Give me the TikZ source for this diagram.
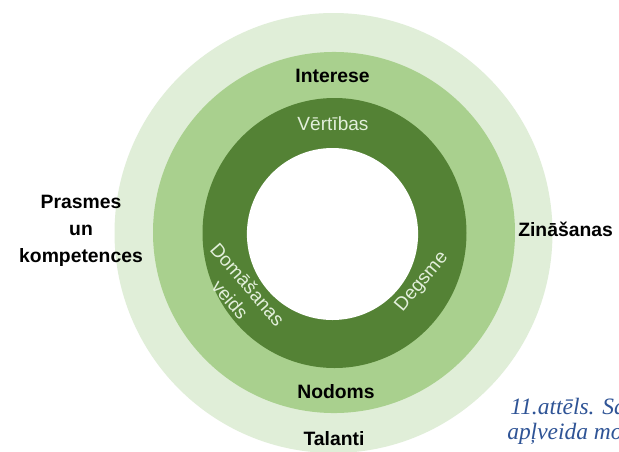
\documentclass[tikz,border=0pt]{standalone}
\usepackage{fontspec}
\setmainfont{Liberation Sans}
\newfontfamily\capfont{Liberation Serif}
\definecolor{ringlight}{HTML}{E0EED8}
\definecolor{ringmid}{HTML}{A9D08E}
\definecolor{ringdark}{HTML}{548235}
\definecolor{ringtext}{HTML}{E2EFDA}
\definecolor{capblue}{HTML}{2F5496}
\tikzset{
  outerlabel/.style={font=\fontsize{14.5pt}{17pt}\selectfont\bfseries, text=black, inner sep=0pt, anchor=base},
  innerlabel/.style={font=\fontsize{14.3pt}{17pt}\selectfont, text=ringtext, inner sep=0pt},
  caplabel/.style={font=\capfont\itshape\fontsize{17.6pt}{20pt}\selectfont, text=capblue, inner sep=0pt, anchor=base west}
}
\begin{document}
\begin{tikzpicture}[x=0.75pt,y=-0.75pt]
\useasboundingbox (0,0) rectangle (619,451);
\clip (0,0) rectangle (619,451);
\fill[white] (0,0) rectangle (619,451);
% rings
\fill[ringlight] (333.5,233) ellipse [x radius=164.25pt, y radius=165pt];
\fill[ringmid] (334,232.5) ellipse [x radius=135.75pt, y radius=135.4pt];
\fill[ringdark] (334.5,233) ellipse [x radius=99pt, y radius=101.25pt];
\fill[white] (332.5,234) ellipse [x radius=64.2pt, y radius=64.5pt];
% outer labels
\node[outerlabel] (interese) at (332.5,82) {Interese};
\node[outerlabel] (nodoms) at (336,398) {Nodoms};
\node[outerlabel] (talanti) at (334,445) {Talanti};
\node[outerlabel] (prasmes) at (81,208) {Prasmes};
\node[outerlabel] (un) at (81,235) {un};
\node[outerlabel] (kompet) at (81,262) {kompetences};
\node[outerlabel, anchor=base west] (zinasanas) at (518,236) {Zināšanas};
% inner labels
\node[innerlabel, anchor=base] (vertibas) at (333,130) {Vērtības};
\node[innerlabel, rotate=-49, align=center, font=\fontsize{14.3pt}{17.3pt}\selectfont] (domasanas) at (239,292) {Domāšanas\\veids};
\node[innerlabel, rotate=50] (degsme) at (422,282) {Degsme};
% caption (cut off by the page edge)
\node[caplabel] (cap1) at (510,414) {11.attēls. Sa};
\node[caplabel] (cap2) at (507,439) {apļveida mo};
\end{tikzpicture}
\end{document}
